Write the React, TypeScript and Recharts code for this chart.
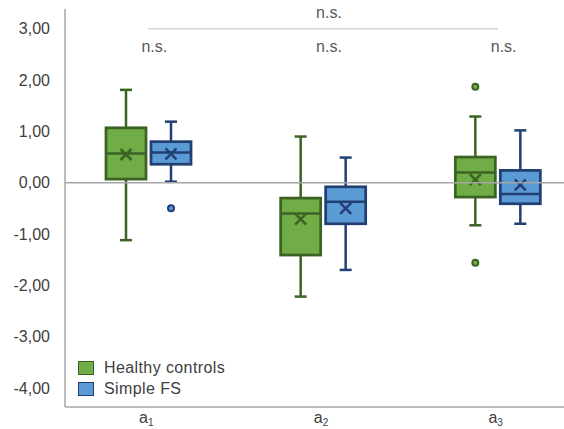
import {
  Bar,
  ComposedChart,
  Legend,
  ReferenceDot,
  ReferenceLine,
  XAxis,
  YAxis,
} from 'recharts';

const categories = ['a₁', 'a₂', 'a₃'];

const healthyMin = [-1.12, -2.22, -0.83];
const healthyQ1 = [0.07, -1.41, -0.28];
const healthyMedian = [0.57, -0.6, 0.2];
const healthyQ3 = [1.07, -0.3, 0.5];
const healthyMax = [1.81, 0.9, 1.29];
const healthyMean = [0.55, -0.71, 0.06];
const healthyOutliers = [[], [], [1.87, -1.56]];

const simpleMin = [0.02, -1.7, -0.8];
const simpleQ1 = [0.36, -0.8, -0.41];
const simpleMedian = [0.59, -0.37, -0.22];
const simpleQ3 = [0.8, -0.08, 0.24];
const simpleMax = [1.19, 0.49, 1.02];
const simpleMean = [0.56, -0.5, -0.04];
const simpleOutliers = [[-0.5], [], []];

const yTicks = [3, 2, 1, 0, -1, -2, -3, -4];

const GREEN = '#70AD47';
const GREEN_DARK = '#3B6324';
const BLUE = '#5B9BD5';
const BLUE_DARK = '#223F73';
const AXIS = '#A6A6A6';
const TEXT = '#404040';

const data = categories.map((cat, i) => ({
  cat,
  hc: [healthyMin[i], healthyMax[i]],
  sfs: [simpleMin[i], simpleMax[i]],
}));

interface BoxStats {
  min: number[];
  q1: number[];
  median: number[];
  q3: number[];
  max: number[];
  mean: number[];
  outliers: number[][];
}

const healthy: BoxStats = {
  min: healthyMin,
  q1: healthyQ1,
  median: healthyMedian,
  q3: healthyQ3,
  max: healthyMax,
  mean: healthyMean,
  outliers: healthyOutliers,
};
const simple: BoxStats = {
  min: simpleMin,
  q1: simpleQ1,
  median: simpleMedian,
  q3: simpleQ3,
  max: simpleMax,
  mean: simpleMean,
  outliers: simpleOutliers,
};

// the bar spans min..max, so its own geometry gives the value->pixel mapping
function boxShape(stats: BoxStats, fill: string, stroke: string) {
  return (props: any) => {
    const { x, y, width, height, index } = props;
    const lo = stats.min[index];
    const hi = stats.max[index];
    const top = Math.min(y, y + height);
    const bottom = Math.max(y, y + height);
    const ppu = (bottom - top) / (hi - lo);
    const toY = (v: number) => top + (hi - v) * ppu;
    const cx = x + width / 2;
    const yq1 = toY(stats.q1[index]);
    const yq3 = toY(stats.q3[index]);
    const ymed = toY(stats.median[index]);
    const ymean = toY(stats.mean[index]);
    const s = 5.5;
    return (
      <g>
        <line x1={cx} x2={cx} y1={top} y2={yq3} stroke={stroke} strokeWidth={2.5} />
        <line x1={cx} x2={cx} y1={yq1} y2={bottom} stroke={stroke} strokeWidth={2.5} />
        <line x1={cx - 6} x2={cx + 6} y1={top} y2={top} stroke={stroke} strokeWidth={2.5} />
        <line x1={cx - 6} x2={cx + 6} y1={bottom} y2={bottom} stroke={stroke} strokeWidth={2.5} />
        <rect
          x={x}
          y={yq3}
          width={width}
          height={yq1 - yq3}
          fill={fill}
          stroke={stroke}
          strokeWidth={2.75}
        />
        <line x1={x} x2={x + width} y1={ymed} y2={ymed} stroke={stroke} strokeWidth={2.5} />
        <line x1={cx - s} x2={cx + s} y1={ymean - s} y2={ymean + s} stroke={stroke} strokeWidth={2.5} />
        <line x1={cx - s} x2={cx + s} y1={ymean + s} y2={ymean - s} stroke={stroke} strokeWidth={2.5} />
        {stats.outliers[index].map((v, k) => (
          <circle key={k} cx={cx} cy={toY(v)} r={3} fill={fill} stroke={stroke} strokeWidth={2} />
        ))}
      </g>
    );
  };
}

const subDigits: Record<string, string> = { '₁': '1', '₂': '2', '₃': '3' };

function CatTick({ x, y, payload }: any) {
  const label: string = payload.value;
  const base = label.slice(0, 1);
  const sub = subDigits[label.slice(1)] ?? label.slice(1);
  return (
    <text x={x - 2} y={y + 16} textAnchor="middle" fill={TEXT} fontSize={16}>
      <tspan>{base}</tspan>
      <tspan fontSize={10} dy={3}>
        {sub}
      </tspan>
    </text>
  );
}

const legendStroke: Record<string, string> = {
  'Healthy controls': GREEN_DARK,
  'Simple FS': BLUE_DARK,
};

function LegendBox({ payload }: any) {
  return (
    <div>
      {(payload || []).map((e: any) => (
        <div
          key={e.value}
          style={{
            display: 'flex',
            alignItems: 'center',
            height: 21,
            color: TEXT,
            fontSize: 16,
            letterSpacing: 0.4,
          }}
        >
          <span
            style={{
              display: 'inline-block',
              width: 14,
              height: 12,
              background: e.color,
              border: `1.5px solid ${legendStroke[e.value]}`,
              marginRight: 10,
            }}
          />
          <span>{e.value}</span>
        </div>
      ))}
    </div>
  );
}

const fmt = (v: number) => v.toFixed(2).replace('.', ',');

export default function App() {
  return (
    <div
      style={{
        position: 'absolute',
        left: 0,
        top: 0,
        width: 564,
        height: 429,
        overflow: 'hidden',
        background: '#fff',
        fontFamily: '"Liberation Sans", Arial, sans-serif',
      }}
    >
      <ComposedChart
        width={585}
        height={429}
        data={data}
        margin={{ top: 9, right: 0, bottom: 0, left: 0 }}
        barSize={40}
        barGap={5}
      >
        <XAxis
          dataKey="cat"
          height={22}
          padding={{ left: -4, right: 0 }}
          tickLine={false}
          tickSize={0}
          tickMargin={0}
          axisLine={{ stroke: AXIS, strokeWidth: 1.5 }}
          tick={<CatTick />}
        />
        <YAxis
          type="number"
          domain={[-4.372, 3.386]}
          ticks={yTicks}
          interval={0}
          width={65}
          tickLine={false}
          tickSize={0}
          tickMargin={15}
          tickFormatter={fmt}
          axisLine={{ stroke: AXIS, strokeWidth: 1.5 }}
          tick={{ fill: TEXT, fontSize: 16 }}
        />
        <ReferenceLine y={0} stroke={AXIS} strokeWidth={1.5} />
        <ReferenceLine
          segment={[
            { x: categories[0], y: 3 },
            { x: categories[2], y: 3 },
          ]}
          stroke="#7F7F7F"
          strokeWidth={1}
          strokeDasharray="1 1"
          label={{ value: 'n.s.', position: 'top', offset: 11, fill: '#595959', fontSize: 16, dx: 6 }}
        />
        {categories.map((c) => (
          <ReferenceDot
            key={c}
            x={c}
            y={2.65}
            r={0}
            fill="none"
            stroke="none"
            label={{ value: 'n.s.', position: 'center', fill: '#595959', fontSize: 16, dx: 6 }}
          />
        ))}
        <Bar
          dataKey="hc"
          name="Healthy controls"
          fill={GREEN}
          isAnimationActive={false}
          shape={boxShape(healthy, GREEN, GREEN_DARK)}
        />
        <Bar
          dataKey="sfs"
          name="Simple FS"
          fill={BLUE}
          isAnimationActive={false}
          shape={boxShape(simple, BLUE, BLUE_DARK)}
        />
        <Legend
          layout="vertical"
          align="center"
          verticalAlign="middle"
          wrapperStyle={{ position: 'absolute', left: 78, top: 357, width: 200 }}
          content={LegendBox}
        />
      </ComposedChart>
    </div>
  );
}
